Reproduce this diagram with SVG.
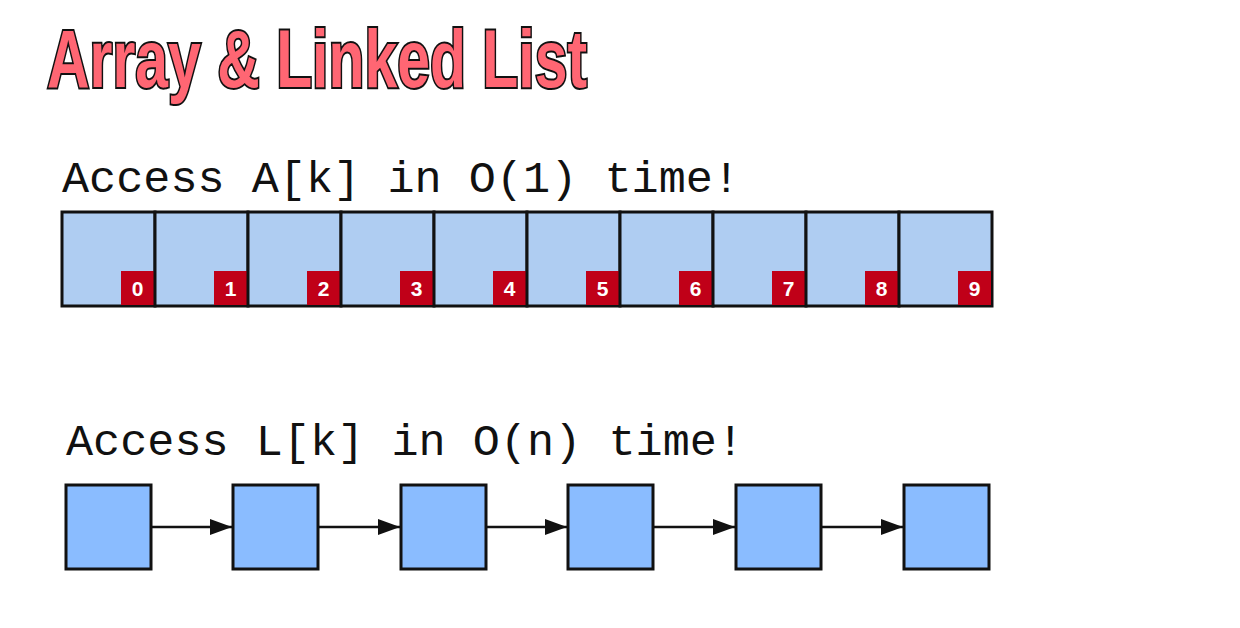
<svg xmlns="http://www.w3.org/2000/svg" width="1240" height="628" viewBox="0 0 1240 628">
<style>
.title{font-family:"Liberation Sans","DejaVu Sans",sans-serif;font-weight:900;font-size:82px;fill:#ff6673;stroke:#111;stroke-width:4;paint-order:stroke fill}
.code{font-family:"Liberation Mono","Courier New",monospace;font-size:45px;fill:#111}
.cell{fill:#afcdf2;stroke:#111;stroke-width:3}
.idx{fill:#c00018}
.idxt{font-family:"Liberation Sans",Arial,sans-serif;font-weight:bold;font-size:21px;fill:#fff;text-anchor:middle}
.node{fill:#8abcff;stroke:#111;stroke-width:3}
.conn{stroke:#111;stroke-width:2.5;fill:none;marker-end:url(#arr)}
</style>
<defs>
<marker id="arr" markerWidth="22" markerHeight="16" refX="22" refY="8" orient="auto" markerUnits="userSpaceOnUse" viewBox="0 0 22 16">
<path d="M0,0 L22,8 L0,16 z" fill="#111"/>
</marker>
</defs>
<rect width="1240" height="628" fill="#fff"/>
<g id="title"><text class="title" x="47" y="87" textLength="540" lengthAdjust="spacingAndGlyphs">Array &amp; Linked List</text></g>
<g id="label-array"><text class="code" x="62" y="192" textLength="678" lengthAdjust="spacingAndGlyphs">Access A[k] in O(1) time!</text></g>
<g id="array">
<g id="a0"><rect class="cell" x="62" y="212" width="93" height="94"/><rect class="idx" x="121" y="271" width="33" height="34"/><text class="idxt" x="137.5" y="296">0</text></g>
<g id="a1"><rect class="cell" x="155" y="212" width="93" height="94"/><rect class="idx" x="214" y="271" width="33" height="34"/><text class="idxt" x="230.5" y="296">1</text></g>
<g id="a2"><rect class="cell" x="248" y="212" width="93" height="94"/><rect class="idx" x="307" y="271" width="33" height="34"/><text class="idxt" x="323.5" y="296">2</text></g>
<g id="a3"><rect class="cell" x="341" y="212" width="93" height="94"/><rect class="idx" x="400" y="271" width="33" height="34"/><text class="idxt" x="416.5" y="296">3</text></g>
<g id="a4"><rect class="cell" x="434" y="212" width="93" height="94"/><rect class="idx" x="493" y="271" width="33" height="34"/><text class="idxt" x="509.5" y="296">4</text></g>
<g id="a5"><rect class="cell" x="527" y="212" width="93" height="94"/><rect class="idx" x="586" y="271" width="33" height="34"/><text class="idxt" x="602.5" y="296">5</text></g>
<g id="a6"><rect class="cell" x="620" y="212" width="93" height="94"/><rect class="idx" x="679" y="271" width="33" height="34"/><text class="idxt" x="695.5" y="296">6</text></g>
<g id="a7"><rect class="cell" x="713" y="212" width="93" height="94"/><rect class="idx" x="772" y="271" width="33" height="34"/><text class="idxt" x="788.5" y="296">7</text></g>
<g id="a8"><rect class="cell" x="806" y="212" width="93" height="94"/><rect class="idx" x="865" y="271" width="33" height="34"/><text class="idxt" x="881.5" y="296">8</text></g>
<g id="a9"><rect class="cell" x="899" y="212" width="93" height="94"/><rect class="idx" x="958" y="271" width="33" height="34"/><text class="idxt" x="974.5" y="296">9</text></g>
</g>
<g id="label-list"><text class="code" x="66" y="455" textLength="678" lengthAdjust="spacingAndGlyphs">Access L[k] in O(n) time!</text></g>
<g id="connectors">
<line class="conn" x1="151" y1="527" x2="232" y2="527"/>
<line class="conn" x1="319" y1="527" x2="400" y2="527"/>
<line class="conn" x1="487" y1="527" x2="567" y2="527"/>
<line class="conn" x1="654" y1="527" x2="735" y2="527"/>
<line class="conn" x1="822" y1="527" x2="903" y2="527"/>
</g>
<g id="n0"><rect class="node" x="66" y="485" width="85" height="84"/></g>
<g id="n1"><rect class="node" x="233" y="485" width="85" height="84"/></g>
<g id="n2"><rect class="node" x="401" y="485" width="85" height="84"/></g>
<g id="n3"><rect class="node" x="568" y="485" width="85" height="84"/></g>
<g id="n4"><rect class="node" x="736" y="485" width="85" height="84"/></g>
<g id="n5"><rect class="node" x="904" y="485" width="85" height="84"/></g>
</svg>
